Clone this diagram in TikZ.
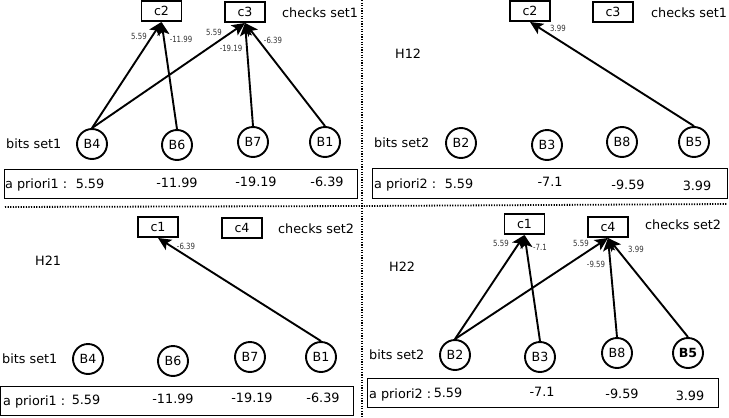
\documentclass[tikz,border=0pt]{standalone}
\usepackage{fontspec}
\setmainfont{DejaVu Sans}
\newfontfamily\condfont[FakeStretch=0.82]{DejaVu Sans}
\usetikzlibrary{arrows.meta}
\tikzset{
  bit/.style={circle, draw, line width=1.9pt, minimum size=30pt, inner sep=0pt, font=\fontsize{12.6}{14}\selectfont},
  chk/.style={rectangle, draw, line width=1.9pt, minimum width=40pt, minimum height=20pt, inner sep=0pt, font=\fontsize{12.6}{14}\selectfont},
  prior/.style={rectangle, draw, line width=0.9pt, inner sep=0pt},
  txt/.style={inner sep=0pt, font=\fontsize{12.8}{14}\selectfont},
  edge/.style={line width=1.9pt, -{Stealth[length=13pt,width=12pt,inset=3pt]}},
  elab/.style={inner sep=0pt, font=\condfont\fontsize{8.5}{10}\selectfont, text=black!80},
  sep/.style={line width=1.8pt, dash pattern=on 1.2pt off 1.4pt}
}
\begin{document}
\begin{tikzpicture}[x=1pt,y=-1pt]
\path[use as bounding box] (0,0) rectangle (729,418);
% separators
\coordinate (vt) at (362,0);
\coordinate (vb) at (362,418);
\coordinate (hl) at (5,207);
\coordinate (hm) at (362,206);
\coordinate (hr) at (727,204);
\draw[sep] (vt) -- (vb);
\draw[sep] (hl) -- (hm) -- (hr);

% ---------- top-left ----------
\node[chk] (tlc2) at (161.5,11) {c2};
\node[chk] (tlc3) at (245,12) {c3};
\node[txt, anchor=west] (tlchk) at (282,13) {checks set1};
\node[txt, anchor=west] (tlbits) at (6,144) {bits set1};
\node[bit] (tlB4) at (92,144) {B4};
\node[bit] (tlB6) at (177,145) {B6};
\node[bit] (tlB7) at (253,142) {B7};
\node[bit] (tlB1) at (325,142) {B1};
\node[prior, minimum width=353pt, minimum height=29pt] (tlap) at (180.5,183.5) {};
\node[txt, anchor=west] (tlapl) at (5,184.5) {a priori1 :};
\node[txt] (tlv1) at (90,183.5) {5.59};
\node[txt] (tlv2) at (177,182.5) {-11.99};
\node[txt] (tlv3) at (256,182) {-19.19};
\node[txt] (tlv4) at (327,182) {-6.39};
\draw[edge] (tlB4.north) -- (tlc2.south);
\draw[edge] (tlB6.north) -- (tlc2.south);
\draw[edge] (tlB4.north) -- (tlc3.south);
\draw[edge] (tlB7.north) -- (tlc3.south);
\draw[edge] (tlB1.north) -- (tlc3.south);
\node[elab] (tll1) at (139,36) {5.59};
\node[elab] (tll2) at (181,39) {-11.99};
\node[elab] (tll3) at (214,32) {5.59};
\node[elab] (tll4) at (231,48) {-19.19};
\node[elab] (tll5) at (273,40) {-6.39};

% ---------- top-right ----------
\node[chk] (trc2) at (530,11) {c2};
\node[chk] (trc3) at (613,12) {c3};
\node[txt, anchor=west] (trchk) at (651,13) {checks set1};
\node[txt, anchor=west] (trH) at (395,54) {H12};
\node[txt, anchor=west] (trbits) at (374,143) {bits set2};
\node[bit] (trB2) at (461,143) {B2};
\node[bit] (trB3) at (547,145) {B3};
\node[bit] (trB8) at (622,142) {B8};
\node[bit] (trB5) at (694,142) {B5};
\node[prior, minimum width=355pt, minimum height=30pt] (trap) at (549.5,183) {};
\node[txt, anchor=west] (trapl) at (374,184.5) {a priori2 :};
\node[txt] (trv1) at (459,183.5) {5.59};
\node[txt] (trv2) at (550,182) {-7.1};
\node[txt] (trv3) at (628,185) {-9.59};
\node[txt] (trv4) at (697,186) {3.99};
\draw[edge] (trB5.north) -- (trc2.south);
\node[elab] (trl1) at (558,28) {3.99};

% ---------- bottom-left ----------
\node[chk] (blc1) at (158,227) {c1};
\node[chk] (blc4) at (242,228) {c4};
\node[txt, anchor=west] (blchk) at (278,229) {checks set2};
\node[txt, anchor=west] (blH) at (35,261) {H21};
\node[txt, anchor=west] (blbits) at (2,359) {bits set1};
\node[bit] (blB4) at (88,359) {B4};
\node[bit] (blB6) at (173,361) {B6};
\node[bit] (blB7) at (250,357) {B7};
\node[bit] (blB1) at (321,357) {B1};
\node[prior, minimum width=353pt, minimum height=29pt] (blap) at (176.5,400.5) {};
\node[txt, anchor=west] (blapl) at (3,401.5) {a priori1 :};
\node[txt] (blv1) at (86,400) {5.59};
\node[txt] (blv2) at (173,398.5) {-11.99};
\node[txt] (blv3) at (252,397.5) {-19.19};
\node[txt] (blv4) at (323,397.5) {-6.39};
\draw[edge] (blB1.north) -- (blc1.south);
\node[elab] (bll1) at (186,246) {-6.39};

% ---------- bottom-right ----------
\node[chk] (brc1) at (524.5,224) {c1};
\node[chk] (brc4) at (608,227) {c4};
\node[txt, anchor=west] (brchk) at (645,225) {checks set2};
\node[txt, anchor=west] (brH) at (389,267) {H22};
\node[txt, anchor=west] (brbits) at (369,355) {bits set2};
\node[bit] (brB2) at (455,355) {B2};
\node[bit] (brB3) at (540,357) {B3};
\node[bit] (brB8) at (617,353) {B8};
\node[bit, font=\fontsize{12.6}{14}\selectfont\bfseries] (brB5) at (688,353) {B5};
\node[prior, minimum width=351pt, minimum height=29pt] (brap) at (542.5,393) {};
\node[txt, anchor=west] (brapl) at (369,394.5) {a priori2 :};
\node[txt] (brv1) at (448,393) {5.59};
\node[txt] (brv2) at (542,391.5) {-7.1};
\node[txt] (brv3) at (622,394) {-9.59};
\node[txt] (brv4) at (690,396) {3.99};
\draw[edge] (brB2.north) -- (brc1.south);
\draw[edge] (brB3.north) -- (brc1.south);
\draw[edge] (brB2.north) -- (brc4.south);
\draw[edge] (brB8.north) -- (brc4.south);
\draw[edge] (brB5.north) -- (brc4.south);
\node[elab] (brl1) at (501,243) {5.59};
\node[elab] (brl2) at (540,247) {-7.1};
\node[elab] (brl3) at (581,243) {5.59};
\node[elab] (brl4) at (596,264) {-9.59};
\node[elab] (brl5) at (636,249) {3.99};
\end{tikzpicture}
\end{document}
